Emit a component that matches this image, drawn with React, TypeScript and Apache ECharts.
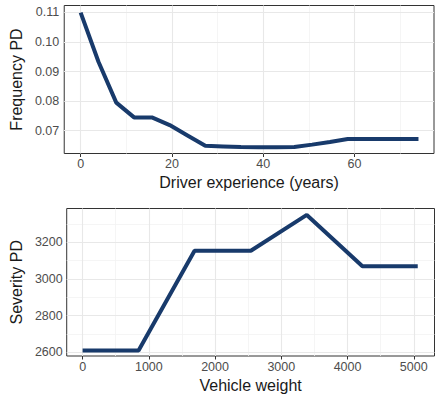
import React, { useEffect, useRef } from "react";
import * as echarts from "echarts";

// Top panel: partial dependence of frequency on driver experience
const experienceYears = [0, 3.9, 7.8, 11.7, 15.6, 19.5, 23.4, 27.3, 31.2, 35.1, 39, 42.9, 46.8, 50.7, 54.6, 58.5, 62.4, 66.3, 70.2, 74];
const frequencyPD = [0.1099, 0.0933, 0.0795, 0.0745, 0.0745, 0.0719, 0.0684, 0.0649, 0.0647, 0.0645, 0.0644, 0.0644, 0.0645, 0.0653, 0.0662, 0.0672, 0.0672, 0.0672, 0.0672, 0.0672];
const topXTicks = [0, 20, 40, 60];
const topXMinor = [10, 30, 50, 70];
const topYTicks = [0.07, 0.08, 0.09, 0.1, 0.11];
const topYMinor = [0.065, 0.075, 0.085, 0.095, 0.105];

// Bottom panel: partial dependence of severity on vehicle weight
const vehicleWeight = [0, 845, 1690, 2540, 3385, 4225, 5060];
const severityPD = [2610, 2610, 3154, 3154, 3349, 3069, 3069];
const botXTicks = [0, 1000, 2000, 3000, 4000, 5000];
const botXMinor = [500, 1500, 2500, 3500, 4500];
const botYTicks = [2600, 2800, 3000, 3200];
const botYMinor = [2700, 2900, 3100, 3300];

const LINE = "#183A6B";
const FONT = "'Liberation Sans', Arial, Helvetica, sans-serif";

function gridLines(xMaj: number[], xMin: number[], yMaj: number[], yMin: number[]) {
  const maj = { color: "#E8E8E8", width: 1.1, type: "solid" as const };
  const min = { color: "#F2F2F2", width: 0.8, type: "solid" as const };
  return [
    ...xMin.map((v) => ({ xAxis: v, lineStyle: min })),
    ...yMin.map((v) => ({ yAxis: v, lineStyle: min })),
    ...xMaj.map((v) => ({ xAxis: v, lineStyle: maj })),
    ...yMaj.map((v) => ({ yAxis: v, lineStyle: maj })),
  ];
}

export default function App() {
  const ref = useRef<HTMLDivElement>(null);
  useEffect(() => {
    if (!ref.current) return;
    const chart = echarts.init(ref.current, undefined, { renderer: "svg" });
    const axisCommon = {
      type: "value" as const,
      axisLine: { show: false },
      splitLine: { show: false },
      nameLocation: "middle" as const,
      nameTextStyle: { color: "#1a1a1a", fontSize: 16, fontFamily: FONT },
    };
    const tick = (vals: number[]) => ({
      show: true,
      customValues: vals,
      length: 3.5,
      lineStyle: { color: "#333333", width: 1 },
    });
    const label = (vals: number[], margin: number, fmt: (v: number) => string) => ({
      customValues: vals,
      margin,
      color: "#4D4D4D",
      fontSize: 12.5,
      fontFamily: FONT,
      formatter: fmt,
    });
    const plain = (v: number) => String(Math.round(v));
    chart.setOption({
      animation: false,
      textStyle: { fontFamily: FONT },
      grid: [
        { left: 62.5, top: 5.5, width: 371.5, height: 148, show: true, borderColor: "#333333", borderWidth: 1, backgroundColor: "#fff", containLabel: false },
        { left: 66.5, top: 208.5, width: 368, height: 147.5, show: true, borderColor: "#333333", borderWidth: 1, backgroundColor: "#fff", containLabel: false },
      ],
      xAxis: [
        {
          ...axisCommon,
          gridIndex: 0,
          min: -3.6,
          max: 77.4,
          name: "Driver experience (years)",
          nameGap: 21,
          axisTick: tick(topXTicks),
          axisLabel: label(topXTicks, 4, plain),
        },
        {
          ...axisCommon,
          gridIndex: 1,
          min: -240,
          max: 5313,
          name: "Vehicle weight",
          nameGap: 21,
          axisTick: tick(botXTicks),
          axisLabel: label(botXTicks, 4, plain),
        },
      ],
      yAxis: [
        {
          ...axisCommon,
          gridIndex: 0,
          min: 0.0623,
          max: 0.1123,
          name: "Frequency PD",
          nameGap: 38,
          axisTick: tick(topYTicks),
          axisLabel: label(topYTicks, 5, (v: number) => v.toFixed(2)),
        },
        {
          ...axisCommon,
          gridIndex: 1,
          min: 2580,
          max: 3384,
          name: "Severity PD",
          nameGap: 38,
          axisTick: tick(botYTicks),
          axisLabel: label(botYTicks, 4, plain),
        },
      ],
      series: [
        {
          type: "line",
          xAxisIndex: 0,
          yAxisIndex: 0,
          z: 10,
          data: experienceYears.map((x, i) => [x, frequencyPD[i]]),
          showSymbol: false,
          symbol: "none",
          lineStyle: { color: LINE, width: 4 },
          silent: true,
          markLine: {
            z: 1,
            silent: true,
            symbol: ["none", "none"],
            label: { show: false },
            animation: false,
            data: gridLines(topXTicks, topXMinor, topYTicks, topYMinor),
          },
        },
        {
          type: "line",
          xAxisIndex: 1,
          yAxisIndex: 1,
          z: 10,
          data: vehicleWeight.map((x, i) => [x, severityPD[i]]),
          showSymbol: false,
          symbol: "none",
          lineStyle: { color: LINE, width: 4 },
          silent: true,
          markLine: {
            z: 1,
            silent: true,
            symbol: ["none", "none"],
            label: { show: false },
            animation: false,
            data: gridLines(botXTicks, botXMinor, botYTicks, botYMinor),
          },
        },
      ],
    });
    return () => chart.dispose();
  }, []);
  return (
    <div
      ref={ref}
      style={{ position: "fixed", left: 0, top: 0, width: 437, height: 397, background: "#fff" }}
    />
  );
}
